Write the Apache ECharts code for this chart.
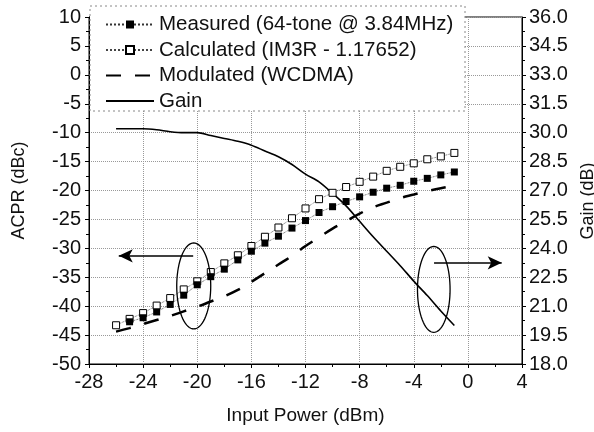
<!DOCTYPE html>
<html>
<head>
<meta charset="utf-8">
<script src="https://cdn.jsdelivr.net/npm/echarts@6/dist/echarts.min.js"></script>
<style>
  html, body { margin: 0; padding: 0; background: #fff; }
  #chart { width: 594px; height: 432px; }
</style>
</head>
<body>
<div id="chart"></div>
<script>
// input power steps (dBm)
const inputPower = [-26, -25, -24, -23, -22, -21, -20, -19, -18, -17, -16, -15, -14,
  -13, -12, -11, -10, -9, -8, -7, -6, -5, -4, -3, -2, -1];

// ACPR (dBc) curves
const measured = [null, -42.7, -42.0, -41.0, -39.7, -38.1, -36.3, -34.9, -33.6, -32.0, -30.5,
  -29.1, -27.9, -26.5, -25.2, -23.8, -22.8, -21.9, -21.1, -20.3, -19.6, -19.1, -18.4,
  -17.9, -17.3, -16.8];
const calculated = [-43.3, -42.2, -41.2, -39.9, -38.6, -37.1, -35.7, -34.1, -32.6, -31.2,
  -29.6, -28.0, -26.4, -24.8, -23.1, -21.5, -20.4, -19.4, -18.5, -17.6, -16.6, -15.9,
  -15.3, -14.6, -14.1, -13.5];
const modulated = [-44.4, -43.8, -43.1, -42.4, -41.7, -40.9, -40.1, -39.2, -38.3, -37.2,
  -35.8, -34.3, -32.8, -31.3, -29.6, -28.1, -26.6, -25.3, -24.0, -22.9, -22.1, -21.3,
  -20.7, -20.1, -19.6, -19.2];

// gain (dB), right axis
const gain = [30.2, 30.2, 30.2, 30.15, 30.05, 30.0, 30.0, 29.85, 29.7, 29.55, 29.35, 29.05,
  28.75, 28.35, 27.85, 27.45, 26.85, 26.2, 25.4, 24.6, 23.85, 23.1, 22.3, 21.55, 20.75, 20.0];

const seriesNames = ['Measured (64-tone @ 3.84MHz)', 'Calculated (IM3R - 1.17652)',
  'Modulated (WCDMA)', 'Gain'];

const pairs = (ys) => inputPower.map((x, i) => [x, ys[i]]).filter((p) => p[1] !== null);

const font = 'Liberation Sans, Arial, sans-serif';

const chart = echarts.init(document.getElementById('chart'), null, { renderer: 'canvas' });

const splitLine = { show: true, lineStyle: { color: '#999', type: 'dotted', width: 1 } };
const axisLabel = { color: '#111', fontSize: 20, fontFamily: font };
const tick = { show: true, length: 4, lineStyle: { color: '#000' } };
const minorTick = { show: true, splitNumber: 2, length: 3, lineStyle: { color: '#000' } };

chart.setOption({
  animation: false,
  backgroundColor: '#fff',
  grid: {
    left: 89, right: 72, top: 17, bottom: 68,
    outerBoundsMode: 'none',
    containLabel: false,
    show: true, borderColor: '#000', borderWidth: 1, backgroundColor: 'transparent'
  },
  legend: {
    orient: 'vertical',
    left: 105,
    top: 14,
    padding: 0,
    itemWidth: 48,
    itemHeight: 10,
    itemGap: 4.5,
    z: 6,
    data: [
      { name: seriesNames[0] },
      { name: seriesNames[1] },
      { name: seriesNames[2], itemStyle: { opacity: 0 } },
      { name: seriesNames[3], itemStyle: { opacity: 0 } }
    ],
    textStyle: { color: '#111', fontSize: 20.5, fontFamily: font, lineHeight: 20 },
    selectedMode: false
  },
  xAxis: {
    type: 'value',
    min: -28,
    max: 4,
    interval: 4,
    name: 'Input Power (dBm)',
    nameLocation: 'middle',
    nameGap: 42,
    nameTextStyle: { color: '#111', fontSize: 19, fontFamily: font },
    axisLine: { onZero: false, lineStyle: { color: '#000', width: 1 } },
    axisTick: tick,
    minorTick,
    axisLabel: { ...axisLabel, margin: 8 },
    splitLine
  },
  yAxis: [
    {
      type: 'value',
      min: -50,
      max: 10,
      interval: 5,
      name: 'ACPR (dBc)',
      nameLocation: 'middle',
      nameGap: 61,
      nameTextStyle: { color: '#111', fontSize: 18, fontFamily: font },
      axisLine: { show: true, onZero: false, lineStyle: { color: '#000', width: 1 } },
      axisTick: tick,
      minorTick,
      axisLabel: { ...axisLabel, margin: 8 },
      splitLine
    },
    {
      type: 'value',
      min: 18,
      max: 36,
      interval: 1.5,
      name: 'Gain (dB)',
      nameLocation: 'middle',
      nameGap: 47,
      nameRotate: 90,
      nameTextStyle: { color: '#111', fontSize: 18, fontFamily: font, padding: [0, 21, 0, 0] },
      axisLine: { show: true, onZero: false, lineStyle: { color: '#000', width: 1 } },
      axisTick: tick,
      minorTick,
      axisLabel: { ...axisLabel, margin: 7, formatter: (v) => v.toFixed(1) },
      splitLine: { show: false }
    }
  ],
  series: [
    {
      name: seriesNames[0],
      type: 'line',
      data: pairs(measured),
      symbol: 'rect',
      symbolSize: 7,
      itemStyle: { color: '#000' },
      lineStyle: { color: '#333', width: 0.8, type: 'dotted' },
      z: 4
    },
    {
      name: seriesNames[1],
      type: 'line',
      data: pairs(calculated),
      symbol: 'rect',
      symbolSize: 7,
      itemStyle: { color: '#fff', borderColor: '#000', borderWidth: 1 },
      lineStyle: { color: '#444', width: 0.8, type: 'dotted' },
      z: 3
    },
    {
      name: seriesNames[2],
      type: 'line',
      data: pairs(modulated),
      symbol: 'none',
      smooth: 0.4,
      itemStyle: { color: '#000' },
      lineStyle: { color: '#000', width: 2.5, type: [15, 14] },
      markLine: {
        silent: true,
        symbol: ['none', 'arrow'],
        symbolSize: [10, 14],
        label: { show: false },
        lineStyle: { color: '#000', width: 1.5, type: 'solid' },
        data: [
          [{ coord: [-20.3, -31.3] }, { coord: [-25.8, -31.3] }],
          [{ coord: [-2.5, -32.5] }, { coord: [2.5, -32.5] }]
        ]
      }
    },
    {
      name: seriesNames[3],
      type: 'line',
      yAxisIndex: 1,
      data: pairs(gain),
      symbol: 'none',
      smooth: 0.3,
      itemStyle: { color: '#000' },
      lineStyle: { color: '#000', width: 1.6 }
    }
  ]
});

// annotation ellipses around the curves, placed in data space
function ellipsePoints(cx, cy, rx, ry) {
  const c = chart.convertToPixel({ xAxisIndex: 0, yAxisIndex: 0 }, [cx, cy]);
  const pts = [];
  for (let k = 0; k < 72; k++) {
    const t = (k / 72) * Math.PI * 2;
    pts.push([c[0] + rx * Math.cos(t), c[1] + ry * Math.sin(t)]);
  }
  return pts;
}

chart.setOption({
  graphic: [
    {
      type: 'rect',
      z: 5,
      shape: { x: 90, y: 6, width: 375, height: 105 },
      style: { fill: '#fff', stroke: '#888', lineWidth: 1, lineDash: [2, 3] }
    },
    {
      type: 'polygon',
      z: 5,
      shape: { points: ellipsePoints(-20.26, -36.5, 17, 43) },
      style: { fill: 'none', stroke: '#000', lineWidth: 1.3 }
    },
    {
      type: 'polygon',
      z: 5,
      shape: { points: ellipsePoints(-2.52, -37.1, 16.3, 43) },
      style: { fill: 'none', stroke: '#000', lineWidth: 1.3 }
    }
  ]
});
</script>
</body>
</html>
